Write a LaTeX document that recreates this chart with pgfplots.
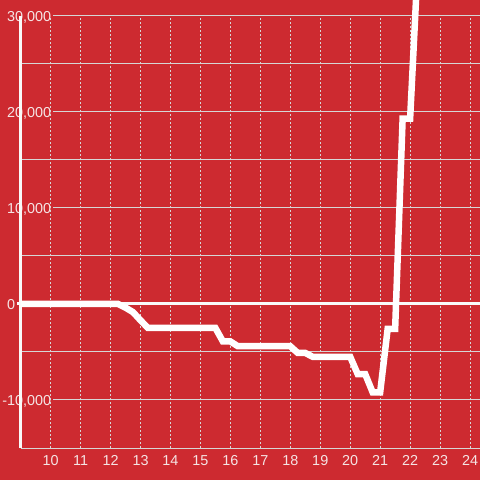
\documentclass[border=0pt]{standalone}
\usepackage{pgfplots}
\pgfplotsset{compat=1.18}
\usepackage{fontspec}
\setmainfont{Liberation Sans}
\definecolor{bgred}{RGB}{205,42,48}
\definecolor{gridgray}{RGB}{214,214,214}
\definecolor{labtxt}{RGB}{245,228,228}
\begin{document}
\begin{tikzpicture}
\fill[bgred] (0,0) rectangle (480bp,480bp);
\begin{axis}[
  at={(20.7bp,32bp)}, anchor=south west,
  scale only axis, width=459.3bp, height=448bp,
  xmin=9, xmax=24.333, ymin=-15000, ymax=31667,
  clip mode=individual,
  axis line style={draw=none},
  tick style={draw=none},
  xtick={10,...,24},
  ytick={-10000,0,10000,20000,30000},
  yticklabels={{\llap{-}10,000},{0},{10,000},{20,000},{30,000}},
  minor ytick={-15000,-5000,5000,15000,25000},
  ymajorgrids, yminorgrids,
  major grid style={gridgray, line width=1bp},
  minor grid style={gridgray, line width=1bp},
  /pgf/number format/assume math mode=true,
  ticklabel style={font=\fontsize{14.4bp}{17bp}\selectfont, text=labtxt},
  xticklabel style={anchor=north, inner sep=0pt, text height=10.3bp, text depth=0pt, yshift=-7bp},
  yticklabel style={anchor=west, fill=bgred, inner xsep=2bp, inner ysep=1bp, text height=10.3bp, text depth=0pt, xshift=-15.7bp},
]
\pgfplotsinvokeforeach{10,...,24}{
  \draw[gridgray, line width=0.9bp, dash pattern=on 2bp off 2bp] (axis cs:#1,-15000) -- (axis cs:#1,30000);
}
\draw[white!95!gray, line width=3bp] (axis cs:8.88,0) -- (axis cs:24.333,0);
\draw[white!95!gray, line width=3bp] (axis cs:9,-15000) -- (axis cs:9,30000);
\addplot[white, line width=6.5bp] coordinates {
(9,0) (12.25,0) (12.5,-380) (12.75,-850) (13.0,-1700) (13.25,-2500)
(15.5,-2500) (15.75,-3900) (16.0,-3900) (16.25,-4400) (18.0,-4400)
(18.25,-5100) (18.5,-5100) (18.75,-5500) (20.0,-5500) (20.25,-7300)
(20.5,-7300) (20.75,-9200) (21.0,-9200) (21.25,-2600) (21.5,-2600)
(21.75,19300) (22.0,19300) (22.25,35000)
};
\end{axis}
\pgfresetboundingbox
\path[use as bounding box] (0,0) rectangle (480bp,480bp);
\end{tikzpicture}
\end{document}
